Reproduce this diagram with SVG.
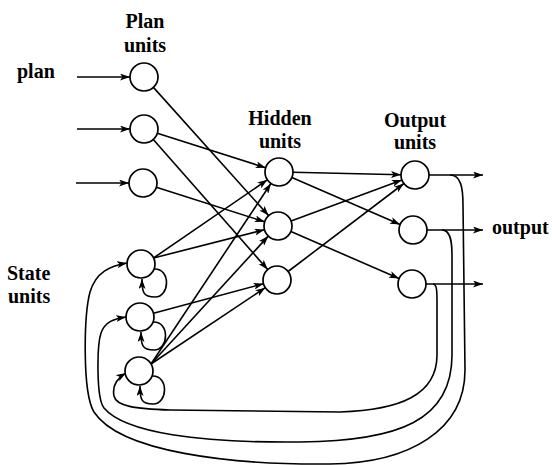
<svg xmlns="http://www.w3.org/2000/svg" width="552" height="465" viewBox="0 0 552 465">
<defs>
<marker id="ah" viewBox="0 0 10 7" refX="10" refY="3.5" markerWidth="10" markerHeight="7" markerUnits="userSpaceOnUse" orient="auto">
<path d="M0,0 L10,3.5 L0,7 L2.5,3.5 z" fill="#000"/>
</marker>
</defs>
<style>
.n{fill:#fff;stroke:#000;stroke-width:1.7}
.c{fill:none;stroke:#000;stroke-width:1.6;marker-end:url(#ah)}
.t{font-family:"Liberation Serif","Times New Roman",serif;font-weight:bold;font-size:20px;fill:#000}
</style>
<rect width="552" height="465" fill="#fff"/>
<g id="labels">
<text class="t" x="145" y="28" text-anchor="middle">Plan</text>
<text class="t" x="145" y="52" text-anchor="middle">units</text>
<text class="t" x="17" y="78">plan</text>
<text class="t" x="280" y="125" text-anchor="middle">Hidden</text>
<text class="t" x="280" y="148" text-anchor="middle">units</text>
<text class="t" x="415" y="127" text-anchor="middle">Output</text>
<text class="t" x="415" y="149" text-anchor="middle">units</text>
<text class="t" x="7" y="280">State</text>
<text class="t" x="8" y="303">units</text>
<text class="t" x="492" y="234">output</text>
</g>
<g id="connectors">
<path class="c" d="M77,77 L130,77"/>
<path class="c" d="M77,129 L130,129"/>
<path class="c" d="M76,183 L129,183"/>
<path class="c" d="M153.4,87.4 L268.6,215.6"/>
<path class="c" d="M157.3,133.2 L265.7,167.8"/>
<path class="c" d="M153.3,139.5 L267.7,269.5"/>
<path class="c" d="M156.3,187.2 L264.7,221.8"/>
<path class="c" d="M153.5,258 L267.4,179.8"/>
<path class="c" d="M153.5,258 L264.5,229.7"/>
<path class="c" d="M153.5,313.3 L263.5,283.7"/>
<path class="c" d="M151,364 L270.9,183.5"/>
<path class="c" d="M151,364 L268.3,236.1"/>
<path class="c" d="M151,364 L265.3,287.7"/>
<path class="c" d="M293,172.3 L401,174.7"/>
<path class="c" d="M291.9,177.6 L400.1,224.4"/>
<path class="c" d="M291.1,221.1 L401.9,179.9"/>
<path class="c" d="M290.9,231.6 L399.1,278.4"/>
<path class="c" d="M288.1,271.5 L403.9,183.5"/>
<path class="c" d="M429,175 L483,175"/>
<path class="c" d="M427,230 L483,230"/>
<path class="c" d="M426,284 L483,284"/>
<path class="c" d="M154,269 C171,268 170,297 155,297 C143,297 142,292 142,279"/>
<path class="c" d="M153,322 C170,321 169,350 154,350 C142,350 141,345 141,332"/>
<path class="c" d="M152,376 C169,375 168,404 153,404 C141,404 140,399 140,386"/>
<path class="c" d="M450,175 C461,175 463,188 463,205 L465,370 C465,430 410,463 330,464 C230,465 120,452 94,412 C82,392 84,315 90,292 C96,272 110,266 127,263"/>
<path class="c" d="M442,230 C450,230 452,240 452,255 L452,355 C452,420 400,441 300,442 C200,443 125,433 104,408 C96,398 97,345 101,333 C105,322 113,319 126,317"/>
<path class="c" d="M433,284 C437,284 437,292 437,302 L437,355 C437,395 400,410 340,412 L170,410 C135,409 116,406 114,396 C112,386 116,379 126,373"/>
</g>
<g id="P1"><circle class="n" cx="144" cy="77" r="14"/></g>
<g id="P2"><circle class="n" cx="144" cy="129" r="14"/></g>
<g id="P3"><circle class="n" cx="143" cy="183" r="14"/></g>
<g id="H1"><circle class="n" cx="279" cy="172" r="14"/></g>
<g id="H2"><circle class="n" cx="278" cy="226" r="14"/></g>
<g id="H3"><circle class="n" cx="277" cy="280" r="14"/></g>
<g id="O1"><circle class="n" cx="415" cy="175" r="14"/></g>
<g id="O2"><circle class="n" cx="413" cy="230" r="14"/></g>
<g id="O3"><circle class="n" cx="412" cy="284" r="14"/></g>
<g id="S1"><circle class="n" cx="141" cy="264" r="14"/></g>
<g id="S2"><circle class="n" cx="140" cy="317" r="14"/></g>
<g id="S3"><circle class="n" cx="139" cy="371" r="14"/></g>
</svg>
